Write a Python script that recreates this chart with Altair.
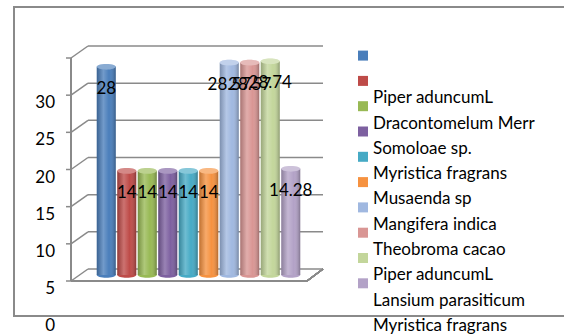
import altair as alt
import pandas as pd

# ---------------- data ----------------
SERIES = ["S1", "S2", "S3", "S4", "S5", "S6", "S7", "S8", "S9", "S10"]
VALUES = [28, 14, 14, 14, 14, 14, 28.57, 28.57, 28.74, 14.28]
VALUE_LABELS = ["28", "14", "14", "14", "14", "14", "28.57", "28.57", "28.74", "14.28"]
COLORS = ["#4A7EBB", "#BE4B48", "#98B954", "#7D60A0", "#46AAC5",
          "#F69240", "#A0B8E0", "#D99694", "#C3D69B", "#B3A2C7"]

LEGEND_TEXT = ["", "", "Piper aduncumL", "Dracontomelum Merr", "Somoloae sp.",
               "Myristica fragrans", "Musaenda sp", "Mangifera indica",
               "Theobroma cacao", "Piper aduncumL", "Lansium parasiticum",
               "Myristica fragrans"]

GRID_VALUES = [0, 5, 10, 15, 20, 25, 30]
TICK_POS = [-5, 0, 5, 10, 15, 20, 25]
TICK_LABELS = ["0", "5", "10", "15", "20", "25", "30"]

# ---------------- layout ----------------
W, H = 252, 223
PAD_L, PAD_T = 71, 52
FONT = "Lato"
FS = 17
GRAY = "#8a8a8a"
ELLIPSE = "M -1 0 A 1 0.3 0 1 1 1 0 A 1 0.3 0 1 1 -1 0 Z"

bars = pd.DataFrame({"series": SERIES, "value": VALUES, "label": VALUE_LABELS})
grid = pd.DataFrame({"v": GRID_VALUES})
ticks = pd.DataFrame({"v": TICK_POS, "label": TICK_LABELS})
leg_sq = pd.DataFrame({"row": list(range(len(SERIES))), "series": SERIES})
leg_tx = pd.DataFrame({"row": list(range(len(LEGEND_TEXT))), "text": LEGEND_TEXT})

ys = alt.Scale(domain=[0, 30])
xs = alt.Scale(domain=SERIES, range=[25, 230], paddingInner=0, paddingOuter=0)
cs = alt.Scale(domain=SERIES, range=COLORS)
ls = alt.Scale(domain=[0, 11], range=[3.6, 281.9])

X = alt.X("series:N", scale=xs, axis=None, sort=SERIES)
Yv = alt.Y("value:Q", scale=ys, axis=None)
C = alt.Color("series:N", scale=cs, legend=None)
Yg = alt.Y("v:Q", scale=ys, axis=None)

border = alt.Chart(bars).mark_rect(filled=False, color=GRAY, strokeWidth=1.5).encode(
    x=alt.value(14 - PAD_L), x2=alt.value(620), y=alt.value(7 - PAD_T), y2=alt.value(316 - PAD_T)
)

grid_back = alt.Chart(grid).mark_rule(color=GRAY, strokeWidth=1.5, yOffset=-6).encode(
    y=Yg, x=alt.value(17), x2=alt.value(252)
)
connectors = alt.Chart(grid).mark_rule(color=GRAY, strokeWidth=1.5, yOffset=6, y2Offset=-6).encode(
    y=Yg, y2=alt.Y2("v:Q"), x=alt.value(0), x2=alt.value(17)
)
front_ticks = alt.Chart(grid).mark_rule(color=GRAY, strokeWidth=1.5, yOffset=6).encode(
    y=Yg, x=alt.value(-5), x2=alt.value(0)
)
front_axis = alt.Chart(bars).mark_rule(color=GRAY, strokeWidth=1.5, yOffset=6, y2Offset=6).encode(
    x=alt.value(0), y=alt.YDatum(30, scale=ys, axis=None), y2=alt.Y2Datum(0)
)
floor_front = alt.Chart(bars).mark_rule(color=GRAY, strokeWidth=1.5, yOffset=6).encode(
    y=alt.YDatum(0, scale=ys, axis=None), x=alt.value(0), x2=alt.value(236)
)
floor_side = alt.Chart(bars).mark_rule(color=GRAY, strokeWidth=1.5, yOffset=6, y2Offset=-6).encode(
    y=alt.YDatum(0, scale=ys, axis=None), y2=alt.Y2Datum(0), x=alt.value(236), x2=alt.value(252)
)

bottom_cap = alt.Chart(bars).mark_point(shape=ELLIPSE, filled=True, size=361, opacity=1).encode(
    x=X, y=alt.YDatum(0, scale=ys, axis=None), color=C
)
body = alt.Chart(bars).mark_bar(size=19).encode(x=X, y=Yv, color=C)
shade = alt.Chart(bars).mark_bar(
    size=19,
    color={"gradient": "linear", "x1": 0, "x2": 1, "y1": 0, "y2": 0,
           "stops": [{"offset": 0, "color": "rgba(0,0,0,0.22)"},
                     {"offset": 0.35, "color": "rgba(255,255,255,0.22)"},
                     {"offset": 0.65, "color": "rgba(255,255,255,0.0)"},
                     {"offset": 1, "color": "rgba(0,0,0,0.28)"}]},
).encode(x=X, y=Yv)
top_cap = alt.Chart(bars).mark_point(shape=ELLIPSE, filled=True, size=361, opacity=1).encode(
    x=X, y=Yv, color=C
)
top_hi = alt.Chart(bars).mark_point(shape=ELLIPSE, filled=True, size=361, opacity=0.35, color="white").encode(
    x=X, y=Yv
)
value_text = alt.Chart(bars).mark_text(font=FONT, fontSize=FS, dy=22, baseline="middle", color="black").encode(
    x=X, y=Yv, text="label:N"
)
tick_text = alt.Chart(ticks).mark_text(font=FONT, fontSize=FS, dy=14, align="right", baseline="middle",
                                       color="black").encode(
    y=Yg, x=alt.value(-16), text="label:N"
)
legend_sq = alt.Chart(leg_sq).mark_square(size=100, opacity=1, filled=True).encode(
    x=alt.value(292), y=alt.Y("row:Q", scale=ls, axis=None), color=C
)
legend_tx = alt.Chart(leg_tx).mark_text(font=FONT, fontSize=FS, align="left", baseline="alphabetic", dy=-3,
                                        color="black").encode(
    x=alt.value(302), y=alt.Y("row:Q", scale=ls, axis=None), text="text:N"
)

chart = alt.layer(
    border, grid_back, connectors, front_ticks, front_axis, floor_front, floor_side,
    bottom_cap, body, shade, top_cap, top_hi, value_text, tick_text, legend_sq, legend_tx
).resolve_scale(y="independent").properties(
    width=W, height=H,
    padding={"left": PAD_L, "top": PAD_T, "right": 564 - PAD_L - W, "bottom": 336 - PAD_T - H},
    autosize=alt.AutoSizeParams(type="none"),
    background="white",
).configure_view(stroke=None)

chart.save("out.html", embed_options={"renderer": "svg", "actions": False})
